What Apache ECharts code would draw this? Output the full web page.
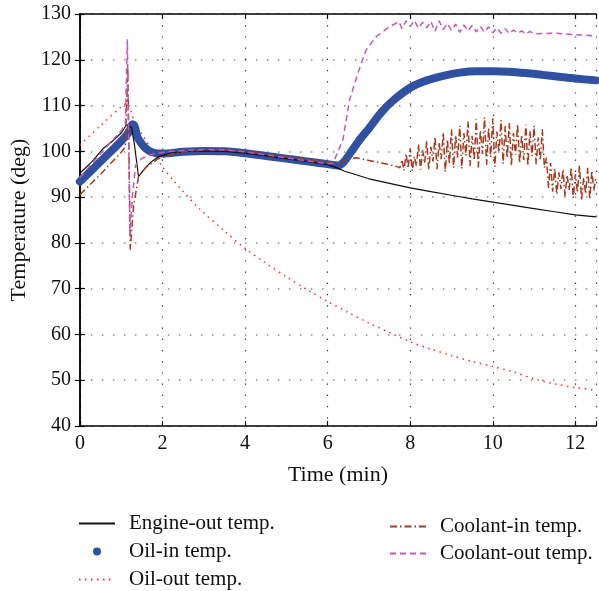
<!DOCTYPE html>
<html>
<head>
<meta charset="utf-8">
<script src="https://cdn.jsdelivr.net/npm/echarts@6/dist/echarts.min.js"></script>
<style>
html,body{margin:0;padding:0;background:#fff;}
#chart{width:599px;height:591px;}
</style>
</head>
<body>
<div id="chart"></div>
<script>
// ---- data ----
var xTicks = [0, 2, 4, 6, 8, 10, 12];
var yTicks = [40, 50, 60, 70, 80, 90, 100, 110, 120, 130];

var engineOutTime = [0, 0.3, 0.55, 0.8, 1.0, 1.13, 1.25, 1.32, 1.42, 1.55, 1.7, 1.9, 2.2, 2.6, 3.0, 3.5, 4.0, 4.5, 5.0, 5.5, 6.0, 6.2, 6.4, 7.0, 7.5, 8.0, 8.5, 9.0, 9.5, 10.0, 10.5, 11.0, 11.5, 12.0, 12.5];
var engineOutTemp = [95.2, 97.8, 100.5, 102.3, 104.0, 105.8, 105.2, 101.5, 94.5, 96.0, 97.5, 98.8, 99.6, 100.0, 100.1, 100.0, 99.6, 99.0, 98.4, 97.8, 97.1, 96.5, 95.7, 94.0, 93.0, 92.0, 91.2, 90.4, 89.6, 88.9, 88.2, 87.5, 86.8, 86.1, 85.7];

var oilInTime = [0, 0.3, 0.6, 0.9, 1.1, 1.2, 1.27, 1.32, 1.4, 1.5, 1.6, 1.75, 2.0, 2.5, 3.0, 3.5, 4.0, 4.5, 5.0, 5.5, 6.0, 6.25, 6.4, 6.6, 6.8, 7.0, 7.3, 7.6, 8.0, 8.4, 8.8, 9.2, 9.6, 10.0, 10.4, 10.8, 11.2, 11.6, 12.0, 12.5];
var oilInTemp = [93.4, 96.0, 98.7, 101.3, 103.2, 104.4, 105.9, 105.6, 103.0, 101.6, 100.6, 99.8, 99.5, 99.9, 100.1, 100.0, 99.6, 99.0, 98.4, 97.8, 97.2, 96.9, 97.8, 100.3, 102.8, 105.0, 108.5, 111.2, 113.9, 115.5, 116.5, 117.2, 117.5, 117.5, 117.4, 117.1, 116.7, 116.3, 115.9, 115.5];

var oilOutTime = [0, 0.5, 1.0, 1.15, 1.3, 1.5, 1.75, 2.0, 2.25, 2.5, 2.9, 3.5, 4.0, 4.5, 5.0, 5.5, 6.0, 6.5, 7.0, 7.5, 8.0, 8.5, 9.0, 9.5, 10.0, 10.5, 11.0, 11.5, 12.0, 12.5];
var oilOutTemp = [101.4, 105.6, 109.7, 110.5, 107.0, 103.8, 100.2, 96.6, 93.8, 91.2, 87.4, 82.6, 78.8, 75.6, 72.6, 69.8, 67.2, 64.8, 62.5, 60.4, 58.4, 56.8, 55.4, 54.1, 53.0, 51.8, 50.3, 49.2, 48.4, 47.8];

var coolantInTime = [0, 0.5, 1.0, 1.1, 1.16, 1.22, 1.3, 1.42, 1.6, 1.9, 2.2, 2.6, 3.0, 3.5, 4.0, 4.5, 5.0, 5.5, 6.0, 6.3, 6.5, 6.7, 7.0, 7.4, 7.7,
  7.75, 7.80, 7.85, 7.90, 7.95, 8.00, 8.05, 8.10, 8.15, 8.20, 8.25, 8.30, 8.35, 8.40, 8.45, 8.50, 8.55, 8.60, 8.65, 8.70, 8.75, 8.80, 8.85, 8.90, 8.95,
  9.00, 9.05, 9.10, 9.15, 9.20, 9.25, 9.30, 9.35, 9.40, 9.45, 9.50, 9.55, 9.60, 9.65, 9.70, 9.75, 9.80, 9.85, 9.90, 9.95,
  10.00, 10.05, 10.10, 10.15, 10.20, 10.25, 10.30, 10.35, 10.40, 10.45, 10.50, 10.55, 10.60, 10.65, 10.70, 10.75, 10.80, 10.85, 10.90, 10.95,
  11.00, 11.05, 11.10, 11.15, 11.20, 11.25, 11.30, 11.35, 11.40, 11.45, 11.50, 11.55, 11.60, 11.65, 11.70, 11.75, 11.80, 11.85, 11.90, 11.95,
  12.00, 12.05, 12.10, 12.15, 12.20, 12.25, 12.30, 12.35, 12.40, 12.45, 12.50];
var coolantInTemp = [90.5, 95.0, 99.8, 101.0, 118.0, 78.5, 88.0, 94.5, 96.5, 98.4, 99.4, 100.0, 100.3, 100.3, 100.0, 99.4, 98.8, 98.2, 97.7, 97.3, 98.4, 98.6, 98.0, 97.3, 96.6,
  96.4, 98.2, 95.8, 99.5, 96.3, 100.6, 95.7, 98.9, 96.8, 101.5, 96.0, 100.2, 97.4, 102.3, 95.9, 101.0, 97.8, 103.2, 96.1, 101.9, 98.3, 104.1, 95.5, 102.6, 97.2,
  104.8, 96.4, 103.5, 98.6, 105.6, 96.2, 104.0, 99.1, 106.5, 96.8, 103.4, 98.0, 107.0, 96.5, 104.6, 99.4, 107.4, 97.0, 105.1, 98.7,
  107.2, 96.6, 104.3, 99.8, 106.8, 97.3, 105.5, 98.5, 106.2, 96.9, 104.0, 99.2, 106.0, 97.4, 103.6, 98.1, 105.8, 96.8, 104.4, 99.0,
  105.6, 97.2, 103.0, 98.0, 104.8, 96.4, 98.6, 92.0, 97.5, 91.2, 96.3, 90.6, 95.4, 91.8, 96.0, 90.2, 94.8, 91.5, 96.5, 89.8,
  95.0, 91.0, 97.0, 89.3, 94.2, 90.7, 96.4, 89.5, 95.8, 91.4, 94.6];

var coolantOutTime = [0, 0.5, 1.0, 1.1, 1.15, 1.21, 1.27, 1.35, 1.5, 1.8, 2.2, 2.6, 3.0, 3.5, 4.0, 4.5, 5.0, 5.5, 6.0, 6.13, 6.37, 6.53, 6.73, 6.93, 7.17, 7.49, 7.73,
  7.8, 7.9, 8.0, 8.1, 8.2, 8.3, 8.4, 8.5, 8.6, 8.7, 8.8, 8.9, 9.0, 9.1, 9.2, 9.3, 9.4, 9.5, 9.6, 9.7, 9.8, 9.9, 10.0, 10.1, 10.2, 10.3, 10.4, 10.5, 10.6, 10.7, 10.8, 10.9, 11.0, 11.5, 12.0, 12.5];
var coolantOutTemp = [94.3, 99.5, 104.5, 106.0, 124.5, 81.5, 90.0, 97.0, 98.5, 99.5, 100.0, 100.2, 100.4, 100.3, 99.9, 99.2, 98.6, 97.9, 97.3, 97.4, 102.5, 111.2, 117.0, 122.1, 125.0, 127.2, 128.3,
  126.8, 128.5, 127.3, 128.6, 126.9, 128.2, 127.0, 128.4, 126.2, 128.5, 126.6, 127.9, 126.4, 127.8, 126.0, 127.6, 126.3, 127.5, 126.1, 127.3, 126.0, 127.2, 125.9, 127.0, 125.8, 126.8, 125.7, 126.5, 125.8, 126.3, 125.6, 126.2, 125.7, 125.8, 125.5, 125.2];

var seriesNames = ['Engine-out temp.', 'Oil-in temp.', 'Oil-out temp.', 'Coolant-in temp.', 'Coolant-out temp.'];

function zip(a, b) { return a.map(function (v, i) { return [v, b[i]]; }); }

var FONT = 'Liberation Serif';
var chart = echarts.init(document.getElementById('chart'), null, { renderer: 'canvas' });

var hideDot = { color: 'rgba(0,0,0,0)', borderWidth: 0 };

chart.setOption({
  animation: false,
  backgroundColor: '#ffffff',
  textStyle: { fontFamily: FONT },
  grid: { left: 78, top: 14, right: 1, bottom: 165, containLabel: false },
  xAxis: [{
    type: 'value', min: 0, max: 12.5, interval: 2,
    name: 'Time (min)', nameLocation: 'middle', nameGap: 38,
    nameTextStyle: { fontFamily: FONT, fontSize: 22, color: '#111' },
    axisLine: { show: true, lineStyle: { color: '#000', width: 1.5 } },
    axisTick: { show: true, inside: true, length: 5, lineStyle: { color: '#000', width: 1.2 } },
    axisLabel: { fontFamily: FONT, fontSize: 20, color: '#111', margin: 8,
      formatter: function (v) { return xTicks.indexOf(v) >= 0 ? String(v) : ''; } },
    splitLine: { show: true, lineStyle: { color: '#222', width: 1.2, type: [1.2, 10] } }
  }, {
    type: 'value', min: 0, max: 12.5, interval: 2, position: 'top',
    axisLine: { show: true, lineStyle: { color: '#000', width: 1.5 } },
    axisTick: { show: true, inside: true, length: 5, lineStyle: { color: '#000', width: 1.2 } },
    axisLabel: { show: false }, splitLine: { show: false }
  }],
  yAxis: [{
    type: 'value', min: 40, max: 130, interval: 10,
    name: 'Temperature (deg)', nameLocation: 'middle', nameGap: 45, nameRotate: 90,
    nameTextStyle: { fontFamily: FONT, fontSize: 22, color: '#111' },
    axisLine: { show: true, lineStyle: { color: '#000', width: 1.5 } },
    axisTick: { show: true, inside: true, length: 5, lineStyle: { color: '#000', width: 1.2 } },
    axisLabel: { fontFamily: FONT, fontSize: 20, color: '#111', margin: 9,
      formatter: function (v) { return yTicks.indexOf(v) >= 0 ? String(v) : ''; } },
    splitLine: { show: true, lineStyle: { color: '#888', width: 1.5, type: [1.5, 9.5] } }
  }, {
    type: 'value', min: 40, max: 130, interval: 10, position: 'right',
    axisLine: { show: true, lineStyle: { color: '#000', width: 1.5 } },
    axisTick: { show: true, inside: true, length: 5, lineStyle: { color: '#000', width: 1.2 } },
    axisLabel: { show: false }, splitLine: { show: false }
  }],
  legend: [{
    orient: 'vertical', left: 78, top: 513, height: 78, padding: 0,
    itemWidth: 36, itemHeight: 8, itemGap: 7,
    textStyle: { fontFamily: FONT, fontSize: 21, color: '#111', padding: [0, 0, 0, 9] },
    data: [
      { name: seriesNames[0], itemStyle: hideDot },
      { name: seriesNames[1], icon: 'circle' },
      { name: seriesNames[2], itemStyle: hideDot }
    ]
  }, {
    orient: 'vertical', left: 389, top: 516, height: 70, padding: 0,
    itemWidth: 36, itemHeight: 8, itemGap: 6,
    textStyle: { fontFamily: FONT, fontSize: 21, color: '#111', padding: [0, 0, 0, 9] },
    data: [
      { name: seriesNames[3], itemStyle: hideDot },
      { name: seriesNames[4], itemStyle: hideDot }
    ]
  }],
  series: [
    {
      name: seriesNames[2], type: 'line', symbol: 'none', showSymbol: false, z: 2,
      data: zip(oilOutTime, oilOutTemp), smooth: 0.3,
      itemStyle: { color: '#ff2a2a' },
      lineStyle: { color: '#ff2a2a', width: 1.5, type: [1.5, 4.5] }
    },
    {
      name: seriesNames[1], type: 'line', symbol: 'none', showSymbol: false, z: 3,
      data: zip(oilInTime, oilInTemp), smooth: 0.3,
      itemStyle: { color: '#3050a2' },
      lineStyle: { color: '#3050a2', width: 8, cap: 'round', join: 'round' }
    },
    {
      name: seriesNames[0], type: 'line', symbol: 'none', showSymbol: false, z: 4,
      data: zip(engineOutTime, engineOutTemp),
      itemStyle: { color: '#111' },
      lineStyle: { color: '#111', width: 1.2 }
    },
    {
      name: seriesNames[3], type: 'line', symbol: 'none', showSymbol: false, z: 5,
      data: zip(coolantInTime, coolantInTemp),
      itemStyle: { color: '#a53a20' },
      lineStyle: { color: '#a53a20', width: 1.5, type: [7, 3, 1.5, 3] }
    },
    {
      name: seriesNames[4], type: 'line', symbol: 'none', showSymbol: false, z: 6,
      data: zip(coolantOutTime, coolantOutTemp),
      itemStyle: { color: '#c458b8' },
      lineStyle: { color: '#c458b8', width: 1.5, type: [6, 4] }
    }
  ]
});
</script>
</body>
</html>
